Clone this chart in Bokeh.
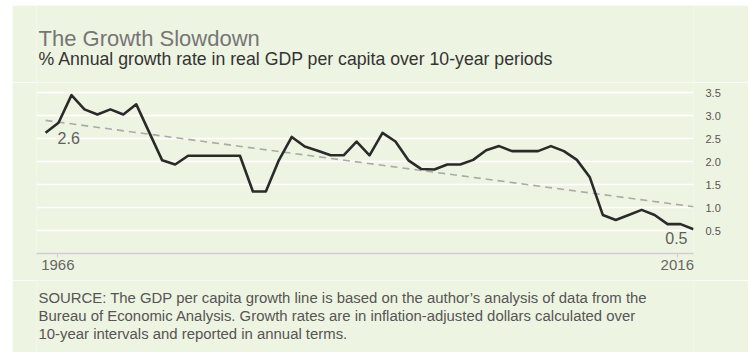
from bokeh.plotting import figure
from bokeh.layouts import column
from bokeh.models import FixedTicker, Label, Range1d, PrintfTickFormatter
from bokeh.core.properties import value
from bokeh.embed import file_html
from bokeh.resources import INLINE

# ---- data ----
years = list(range(1966, 2017))
growth = [2.63, 2.85, 3.45, 3.14, 3.03, 3.14, 3.03, 3.25, 2.64, 2.03,
          1.94, 2.13, 2.13, 2.13, 2.13, 2.13, 1.35, 1.35, 2.03, 2.54,
          2.33, 2.24, 2.14, 2.14, 2.44, 2.14, 2.63, 2.44, 2.03, 1.84,
          1.83, 1.94, 1.94, 2.04, 2.25, 2.34, 2.23, 2.23, 2.23, 2.34,
          2.23, 2.04, 1.66, 0.84, 0.73, 0.84, 0.95, 0.84, 0.64, 0.64, 0.53]
trend_years = [1966, 2016]
trend_values = [2.90, 1.02]
y_ticks = [0.5, 1.0, 1.5, 2.0, 2.5, 3.0, 3.5]
x_tick_labels = [str(years[0]), str(years[-1])]

title_text = "The Growth Slowdown"
subtitle_text = "% Annual growth rate in real GDP per capita over 10-year periods"
source_lines = [
    "SOURCE: The GDP per capita growth line is based on the author\u2019s analysis of data from the",
    "Bureau of Economic Analysis. Growth rates are in inflation-adjusted dollars calculated over",
    "10-year intervals and reported in annual terms.",
]

# ---- styling ----
BG = "#EEF4E2"
FONT = "Liberation Sans"
W = 736
HEAD_H, CHART_H, FOOT_H = 77, 198, 72
MB_L, MB_R, MB_B = 24, 55, 27
FRAME_W = W - MB_L - MB_R


def text_panel(height):
    """Text-only figure; x in px from the chart frame's left edge, y in px down."""
    f = figure(width=W, height=height, output_backend="svg",
               toolbar_location=None, x_range=Range1d(0, FRAME_W),
               y_range=Range1d(height, 0),
               min_border_left=MB_L, min_border_right=MB_R,
               min_border_top=0, min_border_bottom=0,
               background_fill_color=BG, border_fill_color=BG,
               outline_line_color=None)
    f.axis.visible = False
    f.grid.visible = False
    f.title.visible = False
    return f


TXT = dict(text_font=value(FONT), text_baseline="alphabetic",
           text_align="left", text_line_height=1.0)

# header
head = text_panel(HEAD_H)
head.text(x=[2], y=[33], text=[title_text], text_font_size=value("22px"),
          text_color="#767676", **TXT)
head.text(x=[2], y=[53], text=[subtitle_text], text_font_size=value("17.7px"),
          text_color="#333333", **TXT)

# chart
p = figure(width=W, height=CHART_H, output_backend="svg", toolbar_location=None,
           x_range=Range1d(1965.3, 2016.0), y_range=Range1d(0, 3.726),
           y_axis_location="right",
           min_border_left=MB_L, min_border_right=MB_R,
           min_border_top=0, min_border_bottom=MB_B,
           background_fill_color=BG, border_fill_color=BG,
           outline_line_color=None)
p.title.visible = False

p.xgrid.visible = False
p.ygrid.grid_line_color = "white"
p.ygrid.grid_line_width = 1.6

ya = p.yaxis[0]
ya.ticker = FixedTicker(ticks=y_ticks)
ya.formatter = PrintfTickFormatter(format="%.1f")
ya.axis_line_color = None
ya.major_tick_line_color = None
ya.minor_tick_line_color = None
ya.major_label_standoff = 6
ya.major_label_text_font = FONT
ya.major_label_text_font_size = "11px"
ya.major_label_text_color = "#555555"

xa = p.xaxis[0]
x_tick_pos = [1966.95, 2014.75]
xa.ticker = FixedTicker(ticks=x_tick_pos)
xa.major_label_overrides = {t: lab for t, lab in zip(x_tick_pos, x_tick_labels)}
xa.axis_line_color = "#CFCFCF"
xa.axis_line_width = 1.5
xa.major_tick_line_color = "#CFCFCF"
xa.major_tick_in = 0
xa.major_tick_out = 4
xa.minor_tick_line_color = None
xa.major_label_standoff = 2
xa.major_label_text_font = FONT
xa.major_label_text_font_size = "15px"
xa.major_label_text_color = "#666666"

p.line(trend_years, trend_values, line_color="#A9ABA6", line_width=1.6,
       line_dash="7 5")
p.line(years, growth, line_color="#2A2A2A", line_width=2.6,
       line_join="round")

p.add_layout(Label(x=years[0], y=growth[0], x_offset=12, y_offset=1,
                   text=f"{growth[0]:.1f}", text_font=FONT,
                   text_font_size="16px", text_color="#606060",
                   text_baseline="top", text_align="left"))
p.add_layout(Label(x=years[-1], y=growth[-1], x_offset=-6, y_offset=-3,
                   text=f"{growth[-1]:.1f}", text_font=FONT,
                   text_font_size="16px", text_color="#606060",
                   text_baseline="top", text_align="right"))

# footer
foot = text_panel(FOOT_H)
foot.text(x=[2] * len(source_lines), y=[17 + 18 * i for i in range(len(source_lines))],
          text=source_lines, text_font_size=value("14.9px"),
          text_color="#555555", **TXT)

layout = column(head, p, foot, spacing=0, margin=(5, 0, 0, 12))
open("out.html", "w").write(file_html(layout, INLINE))
